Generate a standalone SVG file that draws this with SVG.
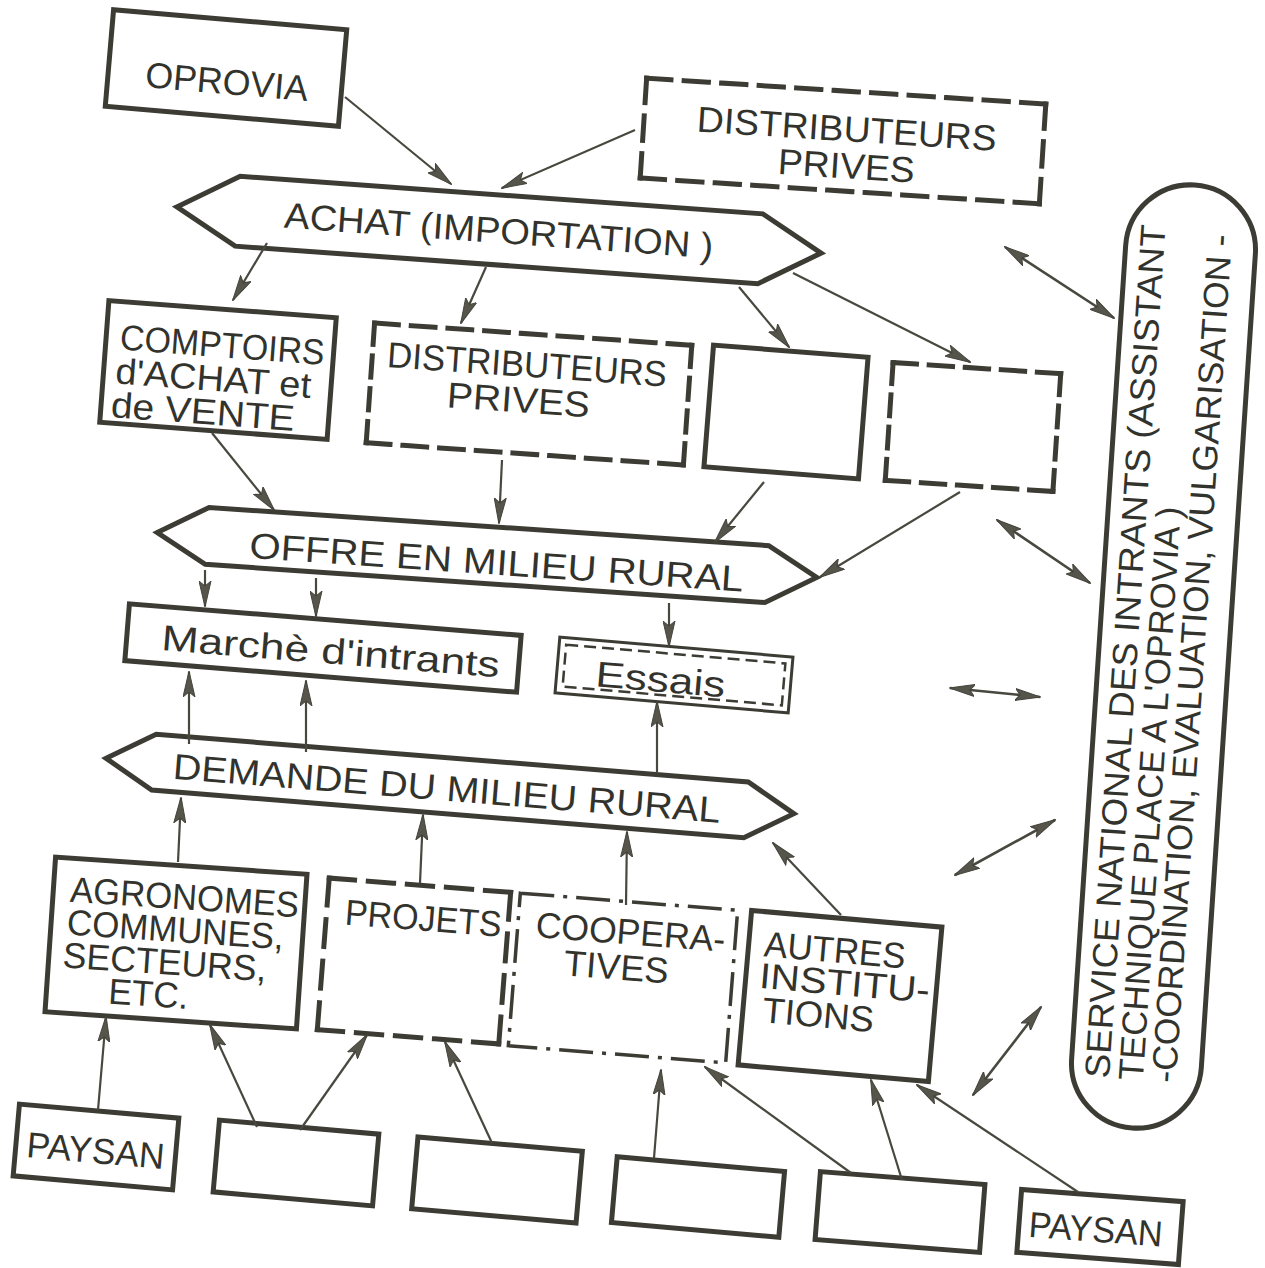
<svg xmlns="http://www.w3.org/2000/svg" width="1265" height="1268" viewBox="0 0 1265 1268">
<style>
.b{fill:none;stroke:#3c3c34;stroke-width:5}
.s{fill:none;stroke:#3c3c34;stroke-width:5;stroke-dasharray:24 13;stroke-linecap:square}
.dd{stroke-dasharray:34 9 4 9;stroke-width:3.5}
.thin{fill:none;stroke:#3c3c34;stroke-width:3}
.ind{fill:none;stroke:#3c3c34;stroke-width:2.5;stroke-dasharray:12 6}
.t{font-family:"Liberation Sans","DejaVu Sans",sans-serif;font-size:36px;fill:#33332d}
.p{font-size:35px}
.m{text-anchor:middle}
.c{fill:none;stroke:#48483f;stroke-width:2.2;marker-end:url(#ah)}
.dbl{fill:none;stroke:#48483f;stroke-width:2.6;marker-end:url(#ah);marker-start:url(#ah)}
</style>
<defs>
<marker id="ah" viewBox="0 0 26 13" refX="25" refY="6.5" markerWidth="26" markerHeight="13" markerUnits="userSpaceOnUse" orient="auto-start-reverse">
<path d="M0,0.5 L26,6.5 L0,12.5 L5,6.5 z" fill="#55554b" stroke="#44443c" stroke-width="1"/>
</marker>
</defs>
<rect width="1265" height="1268" fill="#ffffff"/>

<g id="oprovia" transform="rotate(4.9 226 68)">
<rect class="b" x="109" y="19.5" width="234" height="97"/>
<text class="t m" x="228" y="94" textLength="163" lengthAdjust="spacingAndGlyphs">OPROVIA</text>
</g>

<g id="distrib-top" transform="rotate(3.7 843 141)">
<path class="s" d="M643,91 H1043" pathLength="394"/>
<path class="s" d="M1043,91 V191" pathLength="98"/>
<path class="s" d="M1043,191 H643" pathLength="394"/>
<path class="s" d="M643,191 V91" pathLength="98"/>
<text class="t m" x="846" y="141" textLength="300" lengthAdjust="spacingAndGlyphs">DISTRIBUTEURS</text>
<text class="t m" x="848" y="178" textLength="137" lengthAdjust="spacingAndGlyphs">PRIVES</text>
</g>

<g id="achat" transform="rotate(4.1 499 230)">
<polygon class="b" points="176,230 237,195 761,195 822,230 761,265 237,265"/>
<text class="t m" x="499" y="243" textLength="430" lengthAdjust="spacingAndGlyphs">ACHAT (IMPORTATION )</text>
</g>

<g id="comptoirs" transform="rotate(4.3 218 370)">
<rect class="b" x="104" y="309" width="228" height="122"/>
<text class="t" x="118" y="357" textLength="205" lengthAdjust="spacingAndGlyphs">COMPTOIRS</text>
<text class="t" x="116" y="391" textLength="196" lengthAdjust="spacingAndGlyphs">d'ACHAT et</text>
<text class="t" x="114" y="425" textLength="184" lengthAdjust="spacingAndGlyphs">de VENTE</text>
</g>

<g id="distrib-mid" transform="rotate(4 529 394)">
<path class="s" d="M370,334 H688" pathLength="320"/>
<path class="s" d="M688,334 V454" pathLength="135"/>
<path class="s" d="M688,454 H370" pathLength="320"/>
<path class="s" d="M370,454 V334" pathLength="135"/>
<text class="t m" x="525" y="377" textLength="280" lengthAdjust="spacingAndGlyphs">DISTRIBUTEURS</text>
<text class="t m" x="519" y="413" textLength="143" lengthAdjust="spacingAndGlyphs">PRIVES</text>
</g>

<g id="box-solid" transform="rotate(4.5 786 412)">
<rect class="b" x="708.5" y="351" width="155" height="122"/>
</g>

<g id="box-dashed" transform="rotate(3.8 973 427)">
<path class="s" d="M889,368 H1057" pathLength="172"/>
<path class="s" d="M1057,368 V486" pathLength="135"/>
<path class="s" d="M1057,486 H889" pathLength="172"/>
<path class="s" d="M889,486 V368" pathLength="135"/>
</g>

<g id="offre" transform="rotate(3.9 487 555)">
<polygon class="b" points="156.5,555 206.5,526.5 767.5,526.5 817.5,555 767.5,583.5 206.5,583.5"/>
<text class="t m" x="497" y="574" textLength="495" lengthAdjust="spacingAndGlyphs">OFFRE EN MILIEU RURAL</text>
</g>

<g id="marche" transform="rotate(4.6 323 648)">
<rect class="b" x="126.5" y="619.5" width="393" height="57"/>
<text class="t m" x="331" y="663" textLength="339" lengthAdjust="spacingAndGlyphs">Marchè d'intrants</text>
</g>

<g id="essais" transform="rotate(4.9 674 675)">
<rect class="thin" x="557" y="647" width="234" height="56"/>
<rect class="ind" x="564" y="654" width="220" height="42"/>
<text class="t m" x="661" y="693" textLength="130" lengthAdjust="spacingAndGlyphs">Essais</text>
</g>

<g id="demande" transform="rotate(4.6 450 786)">
<polygon class="b" points="105,786 153,758 747,758 795,786 747,814 153,814"/>
<text class="t m" x="447" y="801" textLength="549" lengthAdjust="spacingAndGlyphs">DEMANDE DU MILIEU RURAL</text>
</g>

<g id="agronomes" transform="rotate(3.9 176 943)">
<rect class="b" x="50" y="865.5" width="252" height="155"/>
<text class="t" x="67" y="909" textLength="229" lengthAdjust="spacingAndGlyphs">AGRONOMES</text>
<text class="t" x="66" y="942" textLength="217" lengthAdjust="spacingAndGlyphs">COMMUNES,</text>
<text class="t" x="64" y="975" textLength="204" lengthAdjust="spacingAndGlyphs">SECTEURS,</text>
<text class="t" x="112" y="1008" textLength="80" lengthAdjust="spacingAndGlyphs">ETC.</text>
</g>

<g id="projets" transform="rotate(4.5 414 961)">
<path class="s" d="M323,885 H505" pathLength="172"/>
<path class="s" d="M505,885 V1037" pathLength="135"/>
<path class="s" d="M505,1037 H323" pathLength="172"/>
<path class="s" d="M323,1037 V885" pathLength="135"/>
<text class="t m" x="420" y="930" textLength="157" lengthAdjust="spacingAndGlyphs">PROJETS</text>
</g>

<g id="cooperatives" transform="rotate(4.5 623 978)">
<rect class="b dd" x="514" y="901.5" width="218" height="153"/>
<text class="t" x="532" y="944" textLength="190" lengthAdjust="spacingAndGlyphs">COOPERA-</text>
<text class="t" x="563" y="980" textLength="105" lengthAdjust="spacingAndGlyphs">TIVES</text>
</g>

<g id="autres" transform="rotate(5 840 996)">
<rect class="b" x="744.5" y="918.5" width="191" height="155"/>
<text class="t" x="760" y="963" textLength="142" lengthAdjust="spacingAndGlyphs">AUTRES</text>
<text class="t" x="758" y="995" textLength="171" lengthAdjust="spacingAndGlyphs">INSTITU-</text>
<text class="t" x="764" y="1029" textLength="112" lengthAdjust="spacingAndGlyphs">TIONS</text>
</g>

<g id="paysan1" transform="rotate(5 96 1147)">
<rect class="b" x="16" y="1111" width="160" height="72"/>
<text class="t m" x="96" y="1163" textLength="138" lengthAdjust="spacingAndGlyphs">PAYSAN</text>
</g>
<g id="box2" transform="rotate(5 296 1163)">
<rect class="b" x="216" y="1127" width="160" height="72"/>
</g>
<g id="box3" transform="rotate(5 497 1180)">
<rect class="b" x="414.5" y="1144" width="165" height="72"/>
</g>
<g id="box4" transform="rotate(5 698 1197)">
<rect class="b" x="614" y="1164" width="168" height="66"/>
</g>
<g id="box5" transform="rotate(4.5 900 1212)">
<rect class="b" x="817.5" y="1178" width="165" height="68"/>
</g>
<g id="paysan2" transform="rotate(4.3 1100 1227)">
<rect class="b" x="1019" y="1195.5" width="162" height="63"/>
<text class="t m" x="1096" y="1242" textLength="134" lengthAdjust="spacingAndGlyphs">PAYSAN</text>
</g>

<g id="service-national" transform="rotate(3.8 1163.5 656.5)">
<rect class="b" x="1098.5" y="184" width="130" height="945" rx="65" ry="65"/>
<g transform="rotate(-90 1163.5 656.5)">
<text class="t p" x="738.5" y="630" textLength="855" lengthAdjust="spacingAndGlyphs">SERVICE NATIONAL  DES  INTRANTS (ASSISTANT</text>
<text class="t p" x="738.5" y="664" textLength="575" lengthAdjust="spacingAndGlyphs">TECHNIQUE   PLACE   A   L'OPROVIA )</text>
<text class="t p" x="738.5" y="697" textLength="850" lengthAdjust="spacingAndGlyphs">-COORDINATION, EVALUATION, VULGARISATION -</text>
</g>
</g>

<g id="connectors">
<line class="c" x1="345" y1="97" x2="451" y2="184"/>
<line class="c" x1="635" y1="130" x2="502" y2="188"/>
<line class="c" x1="267" y1="243" x2="233" y2="300"/>
<line class="c" x1="486" y1="267" x2="461" y2="323"/>
<line class="c" x1="739" y1="287" x2="789" y2="347"/>
<line class="c" x1="793" y1="273" x2="970" y2="362"/>
<line class="c" x1="212" y1="433" x2="274" y2="510"/>
<line class="c" x1="502" y1="460" x2="499" y2="523"/>
<line class="c" x1="764" y1="482" x2="715" y2="542"/>
<line class="c" x1="960" y1="492" x2="820" y2="577"/>
<line class="c" x1="205" y1="570" x2="205" y2="606"/>
<line class="c" x1="316" y1="578" x2="316" y2="616"/>
<line class="c" x1="669" y1="603" x2="669" y2="646"/>
<line class="c" x1="189" y1="744" x2="189" y2="672"/>
<line class="c" x1="306" y1="752" x2="306" y2="681"/>
<line class="c" x1="657" y1="772" x2="657" y2="702"/>
<line class="c" x1="178" y1="862" x2="181" y2="798"/>
<line class="c" x1="420" y1="883" x2="423" y2="815"/>
<line class="c" x1="626" y1="905" x2="627" y2="832"/>
<line class="c" x1="841" y1="915" x2="773" y2="843"/>
<line class="c" x1="98" y1="1110" x2="106" y2="1017"/>
<line class="c" x1="257" y1="1127" x2="210" y2="1025"/>
<line class="c" x1="300" y1="1130" x2="367" y2="1035"/>
<line class="c" x1="492" y1="1143" x2="445" y2="1042"/>
<line class="c" x1="654" y1="1158" x2="661" y2="1070"/>
<line class="c" x1="851" y1="1173" x2="705" y2="1067"/>
<line class="c" x1="902" y1="1180" x2="871" y2="1080"/>
<line class="c" x1="1078" y1="1192" x2="917" y2="1085"/>
<line class="dbl" x1="1005" y1="247" x2="1114" y2="318"/>
<line class="dbl" x1="997" y1="520" x2="1090" y2="583"/>
<line class="dbl" x1="950" y1="688" x2="1040" y2="697"/>
<line class="dbl" x1="955" y1="875" x2="1055" y2="820"/>
<line class="dbl" x1="973" y1="1095" x2="1041" y2="1007"/>
</g>
</svg>
